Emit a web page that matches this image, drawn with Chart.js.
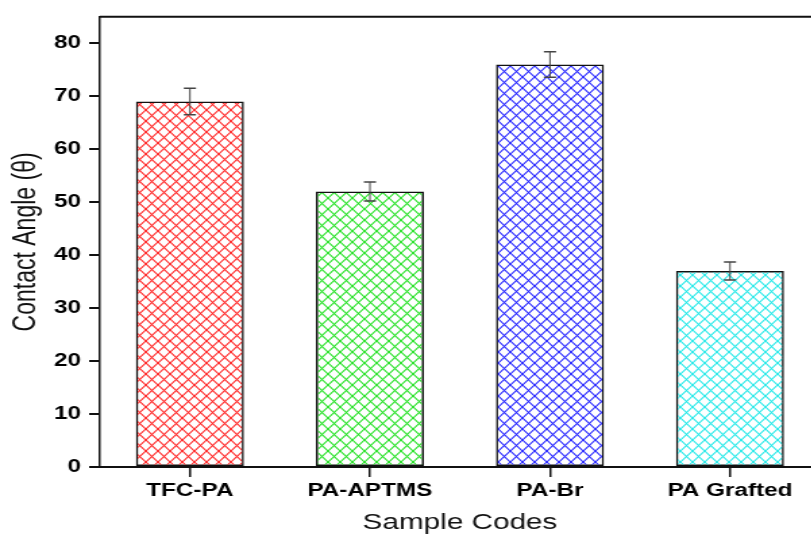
<!DOCTYPE html>
<html>
<head>
<meta charset="utf-8">
<script src="https://cdn.jsdelivr.net/npm/chart.js@4"></script>
<style>
  html, body { margin: 0; padding: 0; background: #fff; overflow: hidden; }
  #wrap { width: 620px; height: 539px; transform: scaleX(1.35); transform-origin: 0 0; }
</style>
</head>
<body>
<div id="wrap"><canvas id="chart_contact"></canvas></div>
<script>
// data
const sampleCodes = ["TFC-PA", "PA-APTMS", "PA-Br", "PA Grafted"];
const contactAngle = [69, 52, 76, 37];
const angleError = [2.5, 1.8, 2.4, 1.7];
const hatchColors = ["#ff2020", "#20e020", "#2020ff", "#20e8e8"];
const yTicks = [0, 10, 20, 30, 40, 50, 60, 70, 80];

// cross hatch fill like the original plot
function makeHatch(color) {
  const w = 9, h = 11;
  const c = document.createElement("canvas");
  c.width = w;
  c.height = h;
  const g = c.getContext("2d");
  g.strokeStyle = color;
  g.lineWidth = 1.1;
  for (let dx = -w; dx <= w; dx += w) {
    g.beginPath();
    g.moveTo(dx, 0);
    g.lineTo(dx + w, h);
    g.moveTo(dx + w, 0);
    g.lineTo(dx, h);
    g.stroke();
  }
  return g.createPattern(c, "repeat");
}

const errorBars = {
  id: "errorBars",
  afterDatasetsDraw(chart) {
    const ctx = chart.ctx;
    const y = chart.scales.y;
    const meta = chart.getDatasetMeta(0);
    ctx.save();
    ctx.strokeStyle = "#444";
    meta.data.forEach((bar, i) => {
      const top = y.getPixelForValue(contactAngle[i] + angleError[i]);
      const bot = y.getPixelForValue(contactAngle[i] - angleError[i]);
      ctx.lineWidth = 1;
      ctx.beginPath();
      ctx.moveTo(bar.x, top);
      ctx.lineTo(bar.x, bot);
      ctx.stroke();
      ctx.lineWidth = 1.5;
      ctx.beginPath();
      ctx.moveTo(bar.x - 4.5, top);
      ctx.lineTo(bar.x + 4.5, top);
      ctx.moveTo(bar.x - 4.5, bot);
      ctx.lineTo(bar.x + 4.5, bot);
      ctx.stroke();
    });
    ctx.restore();
  },
};

const frameBox = {
  id: "frameBox",
  afterDraw(chart) {
    const a = chart.chartArea;
    const ctx = chart.ctx;
    ctx.save();
    ctx.strokeStyle = "#111";
    ctx.lineWidth = 2;
    ctx.beginPath();
    ctx.moveTo(a.left, a.top);
    ctx.lineTo(a.right, a.top);
    ctx.lineTo(a.right, a.bottom);
    ctx.stroke();
    ctx.restore();
  },
};

const ctx1 = document.getElementById("chart_contact").getContext("2d");
const chartContact = new Chart(ctx1, {
  type: "bar",
  data: {
    labels: sampleCodes,
    datasets: [
      {
        label: "Contact Angle",
        data: contactAngle,
        backgroundColor: hatchColors.map((c) => makeHatch(c)),
        borderColor: "#111",
        borderWidth: 1.5,
        borderSkipped: false,
        categoryPercentage: 1,
        barPercentage: 0.6,
      },
    ],
  },
  options: {
    responsive: true,
    maintainAspectRatio: false,
    animation: false,
    layout: { padding: { top: 15, left: 0, right: 12.6, bottom: 0 } },
    scales: {
      x: {
        afterFit: (s) => { s.height = 72; },
        grid: {
          drawOnChartArea: false,
          offset: false,
          color: "#111",
          lineWidth: 1.5,
          tickLength: 10,
        },
        border: { display: true, color: "#111", width: 2 },
        ticks: {
          color: "#000",
          padding: 3,
          font: { family: "Liberation Sans", size: 18, weight: "bold" },
        },
        title: {
          display: true,
          text: "Sample Codes",
          color: "#111",
          padding: { top: 3, bottom: 3 },
          font: { family: "Liberation Sans", size: 22 },
        },
      },
      y: {
        min: 0,
        max: 85,
        afterFit: (s) => { s.width = 74; },
        afterBuildTicks: (s) => {
          s.ticks = yTicks.map((v) => ({ value: v }));
        },
        grid: {
          drawOnChartArea: false,
          color: "#111",
          lineWidth: 2,
          tickLength: 8,
        },
        border: { display: true, color: "#111", width: 1.5 },
        ticks: {
          color: "#000",
          padding: 6,
          font: { family: "Liberation Sans", size: 18, weight: "bold" },
        },
        title: {
          display: true,
          text: "Contact Angle (θ)",
          color: "#111",
          padding: { top: 6, bottom: 0 },
          font: { family: "Liberation Sans", size: 23 },
        },
      },
    },
    plugins: {
      legend: { display: false },
      tooltip: { enabled: false },
    },
  },
  plugins: [errorBars, frameBox],
});
</script>
</body>
</html>
